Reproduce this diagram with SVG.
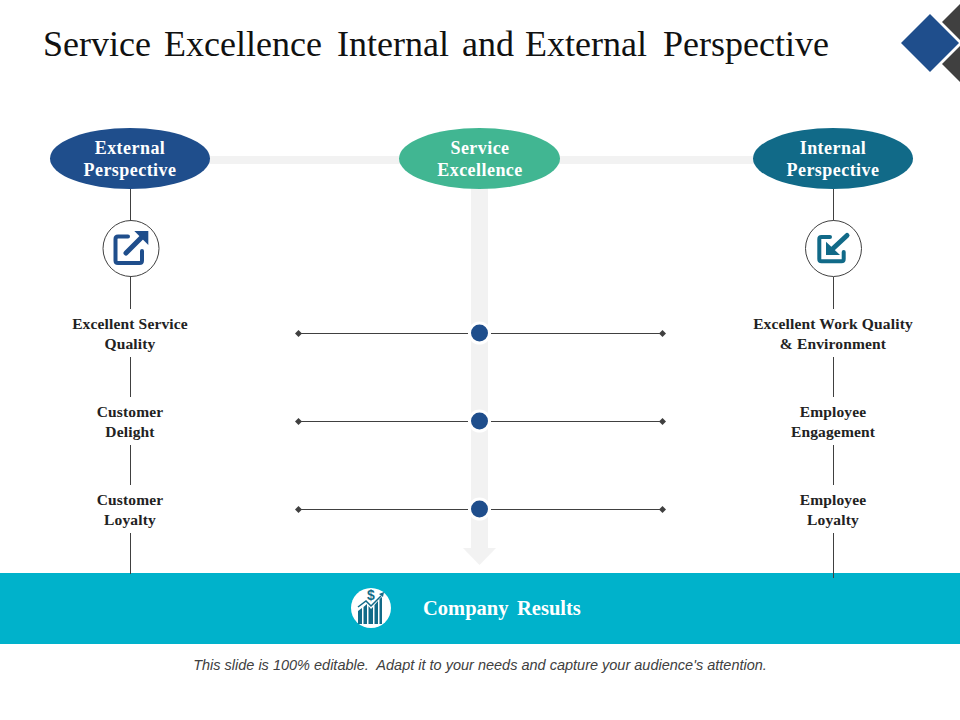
<svg xmlns="http://www.w3.org/2000/svg" width="960" height="720" viewBox="0 0 960 720">
<style>
.s{font-family:"Liberation Serif","Times New Roman",serif;font-weight:bold;text-anchor:middle}
.w{fill:#fff;font-size:18px;letter-spacing:.45px}
.k{fill:#222;font-size:15.500px;letter-spacing:.15px}
.l{stroke:#404040;stroke-width:1;fill:none}
.d{fill:#404040}
.dot{fill:#1f4e8c;stroke:#fff;stroke-width:3}
</style>
<defs>
<marker id="dia" viewBox="-4 -4 8 8" markerWidth="8" markerHeight="8" markerUnits="userSpaceOnUse" orient="auto"><path d="M-3.500 0L0-3.500L3.500 0L0 3.500Z" fill="#404040"/></marker>
</defs>
<rect width="960" height="720" fill="#fff"/>
<text y="56" font-family="Liberation Serif" font-size="36" fill="#111"><tspan x="43">Service</tspan> <tspan x="164">Excellence</tspan> <tspan x="337">Internal</tspan> <tspan x="462">and</tspan> <tspan x="525">External</tspan> <tspan x="663">Perspective</tspan></text>
<g id="corner">
<path class="d" d="M942 22L960 4V40Z"/>
<path class="d" d="M942 64L960 46V82Z"/>
<path fill="#1f4e8c" d="M901 43L930 14L959 43L930 72Z"/>
</g>
<g id="results">
<rect y="573" width="960" height="71" fill="#00b2cb"/>
<circle cx="371" cy="608" r="20" fill="#fff"/>
<path fill="#116a88" d="M358 624V611L362 608V624ZM363.500 624V607L367 604V624ZM368.500 624V606L371 609L373 607V624ZM374.500 624V605L378 601V624ZM379.500 624V599L382 597V624Z"/>
<path fill="none" stroke="#116a88" stroke-width="1.500" d="M358 607L366 601L371 606L381 596"/>
<path fill="#116a88" d="M379 594L384 592L383 597Z"/>
<text x="371" y="600" font-family="Liberation Sans" font-weight="bold" font-size="14" fill="#116a88" text-anchor="middle">$</text>
<text y="615" font-family="Liberation Serif" font-weight="bold" font-size="20.500" fill="#fff"><tspan x="423">Company</tspan> <tspan x="517">Results</tspan></text>
</g>
<g id="connectors">
<rect x="200" y="156" width="570" height="8" fill="#f2f2f2"/>
<rect x="471" y="180" width="17" height="368" fill="#f2f2f2"/>
<path fill="#f2f2f2" d="M463 548H496L479.500 565Z"/>
<path class="l" d="M130.500 188V221M130.500 277V309M130.500 357V397M130.500 445V485M130.500 533V574"/>
<path class="l" d="M833.500 188V221M833.500 277V309M833.500 357V397M833.500 445V485M833.500 533V578"/>
<path class="l" marker-start="url(#dia)" d="M298.500 333.500H468"/>
<path class="l" marker-end="url(#dia)" d="M491 333.500H662.500"/>
<path class="l" marker-start="url(#dia)" d="M298.500 421.500H468"/>
<path class="l" marker-end="url(#dia)" d="M491 421.500H662.500"/>
<path class="l" marker-start="url(#dia)" d="M298.500 509.500H468"/>
<path class="l" marker-end="url(#dia)" d="M491 509.500H662.500"/>
</g>
<g id="external">
<ellipse cx="130" cy="158.500" rx="80" ry="30.500" fill="#1f4e8c"/>
<text class="s w" x="130" y="154">External</text>
<text class="s w" x="130" y="176">Perspective</text>
</g>
<g id="service">
<ellipse cx="479.500" cy="158.500" rx="80.500" ry="30.500" fill="#41b692"/>
<text class="s w" x="480" y="154">Service</text>
<text class="s w" x="480" y="176">Excellence</text>
</g>
<g id="internal">
<ellipse cx="833" cy="158.500" rx="80" ry="30.500" fill="#116a88"/>
<text class="s w" x="833" y="154">Internal</text>
<text class="s w" x="833" y="176">Perspective</text>
</g>
<g id="icon-external">
<circle cx="131" cy="248.500" r="28" fill="#fff" stroke="#404040"/>
<path fill="none" stroke="#1f4e8c" stroke-width="4" stroke-linejoin="round" stroke-linecap="round" d="M128 236.500H118Q115.500 236.500 115.500 239V260.500Q115.500 263 118 263H139.500Q142 263 142 260.500V251"/>
<path fill="none" stroke="#1f4e8c" stroke-width="5" stroke-linecap="round" d="M126 253L141 238"/>
<path fill="#1f4e8c" d="M134.300 231H148.300V245Z"/>
</g>
<g id="icon-internal">
<circle cx="833.500" cy="248.500" r="28" fill="#fff" stroke="#404040"/>
<path fill="none" stroke="#116a88" stroke-width="4" stroke-linejoin="round" stroke-linecap="round" d="M830 237H821.500Q819.300 237 819.300 239V259Q819.300 261.300 821.500 261.300H841.500Q843.700 261.300 843.700 259V252"/>
<path fill="none" stroke="#116a88" stroke-width="5" stroke-linecap="round" d="M847 235.500L833 248.500"/>
<path fill="#116a88" d="M826 241.700V255H840Z"/>
</g>
<g id="e1"><text class="s k" x="130" y="329">Excellent Service</text><text class="s k" x="130" y="349">Quality</text></g>
<g id="e2"><text class="s k" x="130" y="417">Customer</text><text class="s k" x="130" y="437">Delight</text></g>
<g id="e3"><text class="s k" x="130" y="505">Customer</text><text class="s k" x="130" y="525">Loyalty</text></g>
<g id="i1"><text class="s k" x="833" y="329">Excellent Work Quality</text><text class="s k" x="833" y="349">&amp; Environment</text></g>
<g id="i2"><text class="s k" x="833" y="417">Employee</text><text class="s k" x="833" y="437">Engagement</text></g>
<g id="i3"><text class="s k" x="833" y="505">Employee</text><text class="s k" x="833" y="525">Loyalty</text></g>
<g id="dot1"><circle class="dot" cx="479.500" cy="333" r="10"/></g>
<g id="dot2"><circle class="dot" cx="479.500" cy="421" r="10"/></g>
<g id="dot3"><circle class="dot" cx="479.500" cy="509" r="10"/></g>
<text x="480" y="670" font-family="Liberation Sans" font-style="italic" font-size="14.500" fill="#404040" text-anchor="middle">This slide is 100% editable.&#160; Adapt it to your needs and capture your audience's attention.</text>
</svg>
